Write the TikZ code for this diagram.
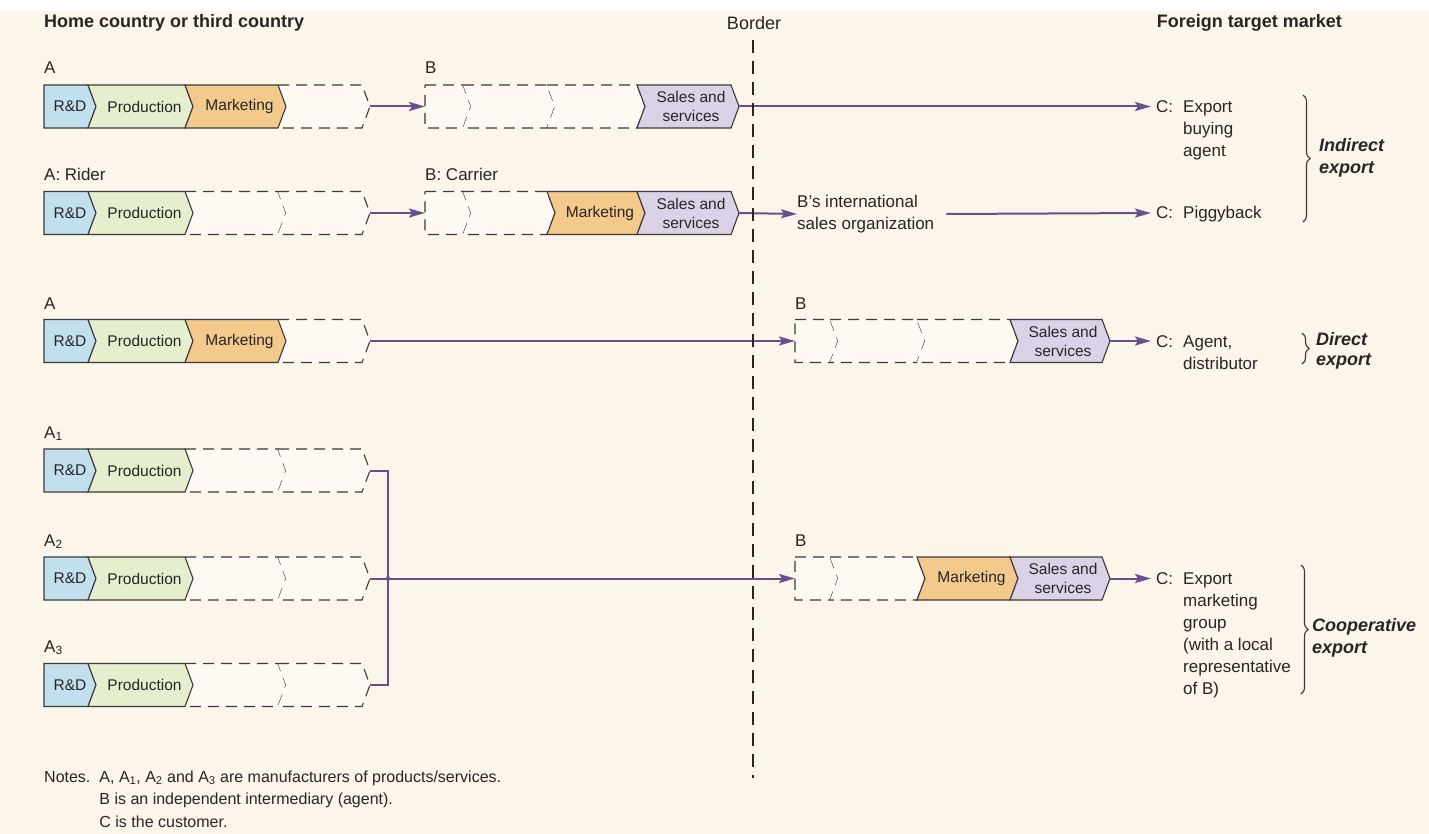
\documentclass[tikz,border=0pt]{standalone}
\usepackage{fontspec}
\setmainfont{Liberation Sans}
\usetikzlibrary{arrows.meta,decorations.pathreplacing}

\definecolor{paper}{HTML}{FCF5EA}
\definecolor{rdblue}{HTML}{C2DFEE}
\definecolor{prodgreen}{HTML}{E5EECD}
\definecolor{mktorange}{HTML}{F3C98C}
\definecolor{salespurple}{HTML}{DCD2E8}
\definecolor{emptyfill}{HTML}{FEFAF3}
\definecolor{edge}{HTML}{3A3A3A}
\definecolor{ink}{HTML}{262626}
\definecolor{flowpurple}{HTML}{6B4E8E}

\tikzset{
  solidseg/.style={draw=edge, line width=1.1pt, line join=miter},
  dashseg/.style={draw=edge, line width=1.1pt, dash pattern=on 11pt off 7pt},
  seglabel/.style={font=\fontsize{15.5}{19}\selectfont, inner sep=0pt, text=ink, align=center},
  rowlabel/.style={font=\fontsize{17}{20}\selectfont, anchor=base west, inner sep=0pt, text=ink},
  ctext/.style={font=\fontsize{17}{22}\selectfont, anchor=base west, inner sep=0pt, text=ink},
  head/.style={font=\fontsize{18}{20}\selectfont\bfseries, inner sep=0pt, text=ink},
  headplain/.style={font=\fontsize{18}{20}\selectfont, inner sep=0pt, text=ink},
  kind/.style={font=\fontsize{18}{22}\selectfont\bfseries\itshape, anchor=west, inner sep=0pt, align=left, text=ink},
  flow/.style={draw=flowpurple, line width=2pt, -{Stealth[length=16pt,width=9pt,inset=3pt]}},
  link/.style={draw=flowpurple, line width=2pt},
  grouping/.style={draw=edge, line width=1.1pt, decorate, decoration={brace, amplitude=7pt}},
  borderline/.style={draw=ink, line width=2.4pt, dash pattern=on 13pt off 8pt},
}

% chevron segment with solid outline: colour, x0, x1, y, depth of left notch
\newcommand\fullseg[5]{%
  \draw[solidseg, fill=#1] (#2,#4-21.5) -- (#3,#4-21.5) -- (#3+8,#4) -- (#3,#4+21.5)
    -- (#2,#4+21.5) -- (#2+#5,#4) -- cycle;}
% empty chevron segment, dashed, left side given by its neighbour
\newcommand\emptyseg[3]{%
  \path[fill=emptyfill] (#1,#3-21.5) -- (#2,#3-21.5) -- (#2+8,#3) -- (#2,#3+21.5)
    -- (#1,#3+21.5) -- (#1+8,#3) -- cycle;
  \draw[dashseg] (#1,#3-21.5) -- (#2,#3-21.5) -- (#2+8,#3) -- (#2,#3+21.5) -- (#1,#3+21.5);}
% empty chevron segment opening a chain, flat dashed left side
\newcommand\emptyfirst[3]{%
  \path[fill=emptyfill] (#1,#3-21.5) -- (#2,#3-21.5) -- (#2+8,#3) -- (#2,#3+21.5)
    -- (#1,#3+21.5) -- cycle;
  \draw[dashseg] (#1,#3-21.5) -- (#2,#3-21.5) -- (#2+8,#3) -- (#2,#3+21.5) -- (#1,#3+21.5) -- cycle;}

\begin{document}
\begin{tikzpicture}[x=1pt,y=-1pt]
\useasboundingbox (0,0) rectangle (1429,834);
\fill[paper] (0,0) rectangle (1429,834);
\fill[white] (0,0) rectangle (1429,11);

% ---------- headings ----------
\node[head, anchor=west] (hhome) at (44,23) {Home country or third country};
\node[headplain] (hborder) at (754,23) {Border};
\node[head, anchor=east] (hforeign) at (1342,23) {Foreign target market};

% ---------- indirect export: export buying agent ----------
\node[rowlabel] (la1) at (44,74) {A};
\emptyseg{278}{362}{106.5}
\fullseg{rdblue}{44}{88}{106.5}{0}
\fullseg{prodgreen}{88}{185}{106.5}{8}
\fullseg{mktorange}{185}{278}{106.5}{8}
\node[seglabel] (r1rd) at (70,106.5) {R\&D};
\node[seglabel] (r1prod) at (144.5,106.5) {Production};
\node[seglabel] (r1mkt) at (239.5,106.5) {Marketing};

\node[rowlabel] (lb1) at (425,74) {B};
\emptyfirst{425}{463}{106.5}
\emptyseg{463}{547}{106.5}
\emptyseg{547}{637}{106.5}
\fullseg{salespurple}{637}{731}{106.5}{8}
\node[seglabel] (r1sales) at (691,106.5) {Sales and\\services};

\coordinate (r1aout) at (370,106.5);
\coordinate (r1bin) at (425,106.5);
\coordinate (r1bout) at (739,106.5);
\coordinate (c1in) at (1151,106.5);
\node[ctext] (c1) at (1156,112.5) {\begin{tabular}[t]{@{}l@{\hspace{10pt}}l@{}}C: & Export\\ & buying\\ & agent\end{tabular}};

% ---------- indirect export: piggyback ----------
\node[rowlabel] (la2) at (44,181) {A: Rider};
\emptyseg{185}{278}{213}
\emptyseg{278}{362}{213}
\fullseg{rdblue}{44}{88}{213}{0}
\fullseg{prodgreen}{88}{185}{213}{8}
\node[seglabel] (r2rd) at (70,213) {R\&D};
\node[seglabel] (r2prod) at (144.5,213) {Production};

\node[rowlabel] (lb2) at (425,181) {B: Carrier};
\emptyfirst{425}{463}{213}
\emptyseg{463}{547}{213}
\fullseg{mktorange}{547}{637}{213}{8}
\fullseg{salespurple}{637}{731}{213}{8}
\node[seglabel] (r2mkt) at (600,213) {Marketing};
\node[seglabel] (r2sales) at (691,213) {Sales and\\services};

\node[ctext, anchor=west, align=left] (borg) at (797,214) {B’s international\\sales organization};

\coordinate (r2aout) at (370,213);
\coordinate (r2bin) at (425,213);
\coordinate (r2bout) at (739,213);
\coordinate (c2in) at (1151,213);
\node[ctext] (c2) at (1156,219) {\begin{tabular}[t]{@{}l@{\hspace{10pt}}l@{}}C: & Piggyback\end{tabular}};

\draw[grouping] (1303,95) -- (1303,222);
\node[kind] (lindirect) at (1319,158) {Indirect\\export};

% ---------- direct export ----------
\node[rowlabel] (la3) at (44,309) {A};
\emptyseg{278}{362}{341}
\fullseg{rdblue}{44}{88}{341}{0}
\fullseg{prodgreen}{88}{185}{341}{8}
\fullseg{mktorange}{185}{278}{341}{8}
\node[seglabel] (r3rd) at (70,341) {R\&D};
\node[seglabel] (r3prod) at (144.5,341) {Production};
\node[seglabel] (r3mkt) at (239.5,341) {Marketing};

\node[rowlabel] (lb3) at (795,309) {B};
\emptyfirst{795}{830}{341}
\emptyseg{830}{917}{341}
\emptyseg{917}{1010}{341}
\fullseg{salespurple}{1010}{1102}{341}{8}
\node[seglabel] (r3sales) at (1063,341) {Sales and\\services};

\coordinate (r3aout) at (370,341);
\coordinate (r3bin) at (795,341);
\coordinate (r3bout) at (1110,341);
\coordinate (c3in) at (1151,341);
\node[ctext] (c3) at (1156,347) {\begin{tabular}[t]{@{}l@{\hspace{10pt}}l@{}}C: & Agent,\\ & distributor\end{tabular}};

\draw[grouping] (1302,333) -- (1302,364);
\node[kind, font=\fontsize{18}{20}\selectfont\bfseries\itshape] (ldirect) at (1316,351) {Direct\\export};

% ---------- cooperative export ----------
\node[rowlabel] (la4) at (44,438) {A\textsubscript{1}};
\emptyseg{185}{278}{470.5}
\emptyseg{278}{362}{470.5}
\fullseg{rdblue}{44}{88}{470.5}{0}
\fullseg{prodgreen}{88}{185}{470.5}{8}
\node[seglabel] (r4rd) at (70,470.5) {R\&D};
\node[seglabel] (r4prod) at (144.5,470.5) {Production};

\node[rowlabel] (la5) at (44,546) {A\textsubscript{2}};
\emptyseg{185}{278}{578.5}
\emptyseg{278}{362}{578.5}
\fullseg{rdblue}{44}{88}{578.5}{0}
\fullseg{prodgreen}{88}{185}{578.5}{8}
\node[seglabel] (r5rd) at (70,578.5) {R\&D};
\node[seglabel] (r5prod) at (144.5,578.5) {Production};

\node[rowlabel] (la6) at (44,652) {A\textsubscript{3}};
\emptyseg{185}{278}{685}
\emptyseg{278}{362}{685}
\fullseg{rdblue}{44}{88}{685}{0}
\fullseg{prodgreen}{88}{185}{685}{8}
\node[seglabel] (r6rd) at (70,685) {R\&D};
\node[seglabel] (r6prod) at (144.5,685) {Production};

\node[rowlabel] (lb4) at (795,546) {B};
\emptyfirst{795}{830}{578.5}
\emptyseg{830}{917}{578.5}
\fullseg{mktorange}{917}{1010}{578.5}{8}
\fullseg{salespurple}{1010}{1102}{578.5}{8}
\node[seglabel] (r5mkt) at (971.5,578.5) {Marketing};
\node[seglabel] (r5sales) at (1063,578.5) {Sales and\\services};

\coordinate (a1out) at (370,470.5);
\coordinate (a2out) at (370,578.5);
\coordinate (a3out) at (370,685);
\coordinate (joint) at (388,578.5);
\coordinate (r5bin) at (795,578.5);
\coordinate (r5bout) at (1110,578.5);
\coordinate (c4in) at (1151,578.5);
\node[ctext] (c4) at (1156,584.5) {\begin{tabular}[t]{@{}l@{\hspace{10pt}}l@{}}C: & Export\\ & marketing\\ & group\\ & (with a local\\ & representative\\ & of B)\end{tabular}};

\draw[grouping] (1301,565) -- (1301,694);
\node[kind] (lcoop) at (1312,638) {Cooperative\\export};

% ---------- flows ----------
\draw[flow] (r1aout) -- (r1bin);
\draw[flow] (r1bout) -- (c1in);
\draw[flow] (r2aout) -- (r2bin);
\draw[flow] (r2bout) -- (borg.west);
\draw[flow] ([xshift=12pt]borg.east) -- (c2in);
\draw[flow] (r3aout) -- (r3bin);
\draw[flow] (r3bout) -- (c3in);
\draw[link, line join=miter] (a1out) -- (a1out -| joint) -- (a3out -| joint) -- (a3out);
\draw[flow] (a2out) -- (r5bin);
\fill[flowpurple] (joint) circle (2.2);
\draw[flow] (r5bout) -- (c4in);

% ---------- border ----------
\coordinate (btop) at (753,40);
\coordinate (bbot) at (753,778);
\draw[borderline] (btop) -- (bbot);

% ---------- notes ----------
\node[ctext, font=\fontsize{16}{22.5}\selectfont] (notes) at (44,782) {\begin{tabular}[t]{@{}l@{\hspace{9pt}}l@{}}Notes. & A, A\textsubscript{1}, A\textsubscript{2} and A\textsubscript{3} are manufacturers of products/services.\\ & B is an independent intermediary (agent).\\ & C is the customer.\end{tabular}};
\end{tikzpicture}
\end{document}
